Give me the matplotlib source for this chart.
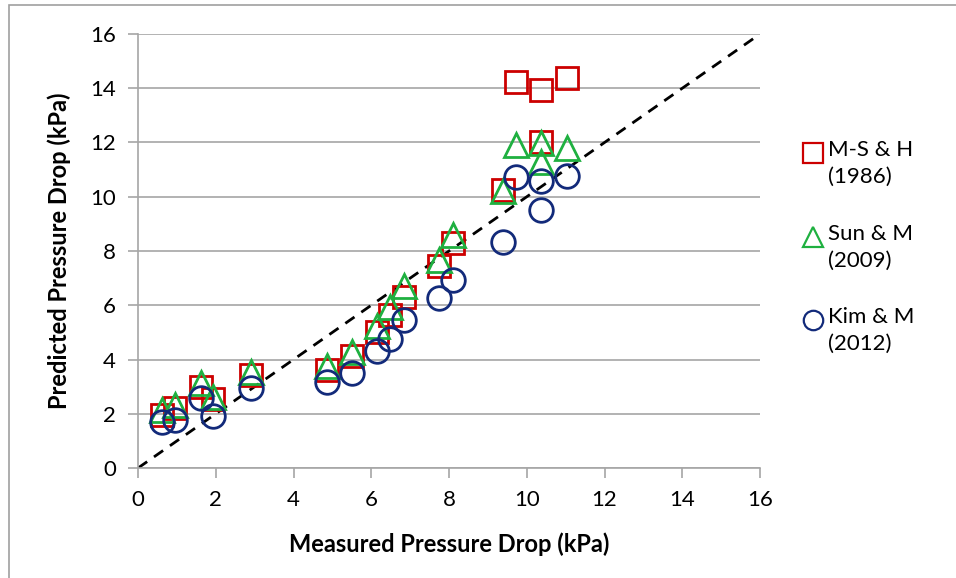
import matplotlib
matplotlib.use("Agg")
import matplotlib.pyplot as plt
from matplotlib.lines import Line2D
from matplotlib.patches import Rectangle

# misurato (kPa)
measured = [0.62, 0.95, 1.62, 1.93, 2.91, 4.86, 5.5, 6.15, 6.47, 6.83, 7.75, 8.1,
            9.4, 9.72, 10.37, 10.37, 11.03]

# previsti dalle tre correlazioni
ms_h = [1.95, 2.2, 3.0, 2.54, 3.43, 3.61, 4.14, 5.02, 5.64, 6.32, 7.44, 8.3,
        10.25, 14.24, 13.94, 12.03, 14.37]
sun_m = [2.14, 2.32, 3.12, 2.6, 3.55, 3.76, 4.29, 5.25, 5.95, 6.72, 7.67, 8.6,
         10.2, 11.9, 11.97, 11.29, 11.79]
kim_m = [1.7, 1.77, 2.58, 1.92, 2.95, 3.17, 3.5, 4.3, 4.75, 5.44, 6.27, 6.93,
         8.34, 10.72, 10.59, 9.51, 10.78]

labels = ['M-S & H\n(1986)', 'Sun & M\n(2009)', 'Kim & M\n(2012)']
colors = ['#CC0000', '#1FB040', '#122A7A']
markers = ['s', '^', 'o']

plt.rcParams['font.family'] = ['Lato', 'DejaVu Sans']

fig = plt.figure(figsize=(9.56, 5.78), dpi=100)
ax = fig.add_axes([0.1444, 0.1903, 0.6506, 0.7509])

# bordo del grafico
fig.add_artist(Rectangle((9/956, -0.1), 1.2, 1 - 5/578 + 0.1, transform=fig.transFigure,
                         fill=False, edgecolor='#A0A0A0', linewidth=1.2))

ax.plot([0, 16], [0, 16], color='black', linestyle=(0, (4, 3)), linewidth=2, zorder=2)

series = [ms_h, sun_m, kim_m]
sizes = [16, 17, 17]
for ys, c, m, s in zip(series, colors, markers, sizes):
    ax.plot(measured, ys, linestyle='none', marker=m, markersize=s,
            markerfacecolor='none', markeredgecolor=c, markeredgewidth=2, zorder=3)

ax.set_xlim(0, 16)
ax.set_ylim(0, 16)
ax.set_xticks(range(0, 17, 2))
ax.set_yticks(range(0, 17, 2))
ax.grid(axis='y', color='#A6A6A6', linewidth=1.2)
ax.set_axisbelow(True)
for side in ['top', 'right']:
    ax.spines[side].set_visible(False)
for side in ['left', 'bottom']:
    ax.spines[side].set_color('#A6A6A6')
    ax.spines[side].set_linewidth(1.2)
ax.tick_params(direction='out', length=7, width=1.2, color='#A6A6A6',
               labelsize=16, pad=9)

ax.set_xlabel('Measured Pressure Drop (kPa)', fontsize=17, fontweight='bold', labelpad=16)
ax.set_ylabel('Predicted Pressure Drop (kPa)', fontsize=17, fontweight='bold', labelpad=14)

# legenda manuale
leg_y = [153, 237, 320]
for lab, c, m, yy in zip(labels, colors, markers, leg_y):
    fy = 1 - yy / 578
    fig.add_artist(Line2D([813 / 956], [fy], transform=fig.transFigure, marker=m,
                          markersize=14, markerfacecolor='none', markeredgecolor=c,
                          markeredgewidth=1.6, linestyle='none'))
    fig.text(828 / 956, fy + 13 / 578, lab, fontsize=16, va='top', ha='left',
             linespacing=1.45)

fig.savefig('out.png', dpi=100)
